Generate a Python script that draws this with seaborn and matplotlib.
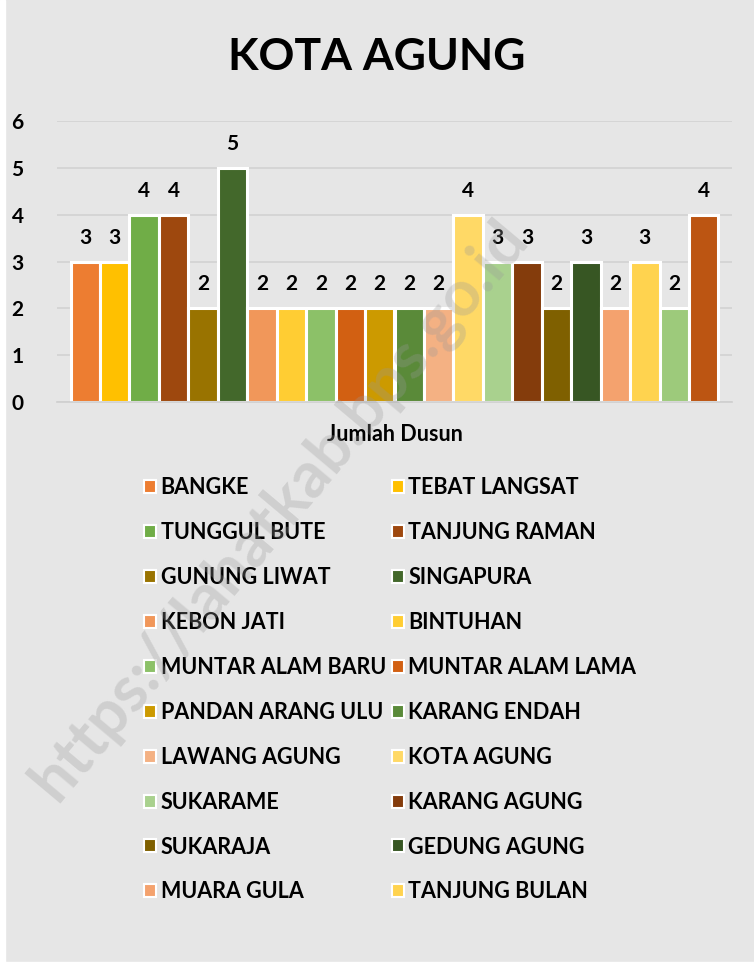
import seaborn as sns
import pandas as pd
import matplotlib.pyplot as plt
from matplotlib.patches import Patch, Rectangle

# Data dusun per desa, Kecamatan Kota Agung
desa = ["BANGKE", "TEBAT LANGSAT", "TUNGGUL BUTE", "TANJUNG RAMAN",
        "GUNUNG LIWAT", "SINGAPURA", "KEBON JATI", "BINTUHAN",
        "MUNTAR ALAM BARU", "MUNTAR ALAM LAMA", "PANDAN ARANG ULU",
        "KARANG ENDAH", "LAWANG AGUNG", "KOTA AGUNG", "SUKARAME",
        "KARANG AGUNG", "SUKARAJA", "GEDUNG AGUNG", "MUARA GULA",
        "TANJUNG BULAN", "DESA 21", "DESA 22"]
jumlah_dusun = [3, 3, 4, 4, 2, 5, 2, 2, 2, 2, 2, 2, 2, 4, 3, 3, 2, 3, 2, 3, 2, 4]
warna = ["#ED7D31", "#FFC000", "#70AD47", "#9E480E", "#997300", "#43682B",
         "#F1975A", "#FFCD33", "#8CC168", "#D26012", "#CC9A00", "#5A8A39",
         "#F4B183", "#FFD966", "#A9D18E", "#843C0C", "#7F6000", "#375623",
         "#F4A26E", "#FFD34F", "#9DCA7B", "#BC5512"]
kategori = "Jumlah Dusun"
n_legenda = 20

df = pd.DataFrame({"Kategori": kategori, "Desa": desa, "Jumlah": jumlah_dusun})

bg = "#E6E6E6"
sns.set_theme(style="white")
plt.rcParams["font.family"] = ["Lato", "DejaVu Sans"]
plt.rcParams["font.weight"] = "bold"

fig = plt.figure(figsize=(7.54, 9.66), dpi=100, facecolor=bg)
ax = fig.add_axes([57 / 754, 1 - 402 / 966, 675 / 754, 281 / 966])
ax.set_facecolor(bg)

sns.barplot(data=df, x="Kategori", y="Jumlah", hue="Desa", palette=warna,
            saturation=1, width=0.96, gap=0, edgecolor="white", linewidth=2.2,
            legend=False, ax=ax)

for c in ax.containers:
    ax.bar_label(c, padding=10, fontsize=15, fontweight="bold", color="black")

ax.set_ylim(0, 6)
ax.set_xlim(-0.5, 0.5)
ax.set_yticks(range(0, 7))
ax.yaxis.grid(True, color="#D2D2D2", linewidth=1.2)
ax.set_axisbelow(True)
for s in ["top", "right", "left"]:
    ax.spines[s].set_visible(False)
ax.spines["bottom"].set_color("#CFCFCF")
ax.spines["bottom"].set_linewidth(1.2)
ax.tick_params(axis="y", length=0, pad=24, labelsize=15, labelcolor="black")
ax.tick_params(axis="x", length=0, pad=16, labelsize=15.5, labelcolor="black")
ax.set_xticks([-0.5, 0.5], minor=True)
ax.tick_params(axis="x", which="minor", length=5, color="#CFCFCF", width=1.2, direction="out")
for t in ax.get_yticklabels() + ax.get_xticklabels():
    t.set_fontweight("bold")
ax.set_xlabel("")
ax.set_ylabel("")

fig.text(0.5, 1 - 57 / 966, "KOTA AGUNG", ha="center", va="center",
         fontsize=32, fontweight="bold", color="black")

# legenda diisi per baris seperti Excel (2 kolom)
patches = [Patch(facecolor=warna[i], edgecolor="white", linewidth=1.5, label=desa[i])
           for i in range(n_legenda)]
urutan = list(range(0, n_legenda, 2)) + list(range(1, n_legenda, 2))
leg = fig.legend([patches[i] for i in urutan], [desa[i] for i in urutan],
                 ncol=2, loc="upper left", bbox_to_anchor=(125 / 754, 1 - 458 / 966),
                 frameon=False, prop={"weight": "bold", "size": 15.5},
                 handlelength=0.55, handleheight=0.55, handletextpad=0.2,
                 labelspacing=1.11, columnspacing=0.3)
for t in leg.get_texts():
    t.set_color("black")

# watermark
fig.text(0.37, 1 - 510 / 966, "https://lahatkab.bps.go.id", ha="center", va="center",
         rotation=50, fontsize=46, fontweight="bold", color="#999999", alpha=0.3, zorder=20)

# tepi putih kiri dan bawah
fig.patches.append(Rectangle((0, 0), 5 / 754, 1, transform=fig.transFigure, color="white", zorder=10))
fig.patches.append(Rectangle((0, 0), 1, 4 / 966, transform=fig.transFigure, color="white", zorder=10))

plt.savefig("out.png", dpi=100, facecolor=bg)
